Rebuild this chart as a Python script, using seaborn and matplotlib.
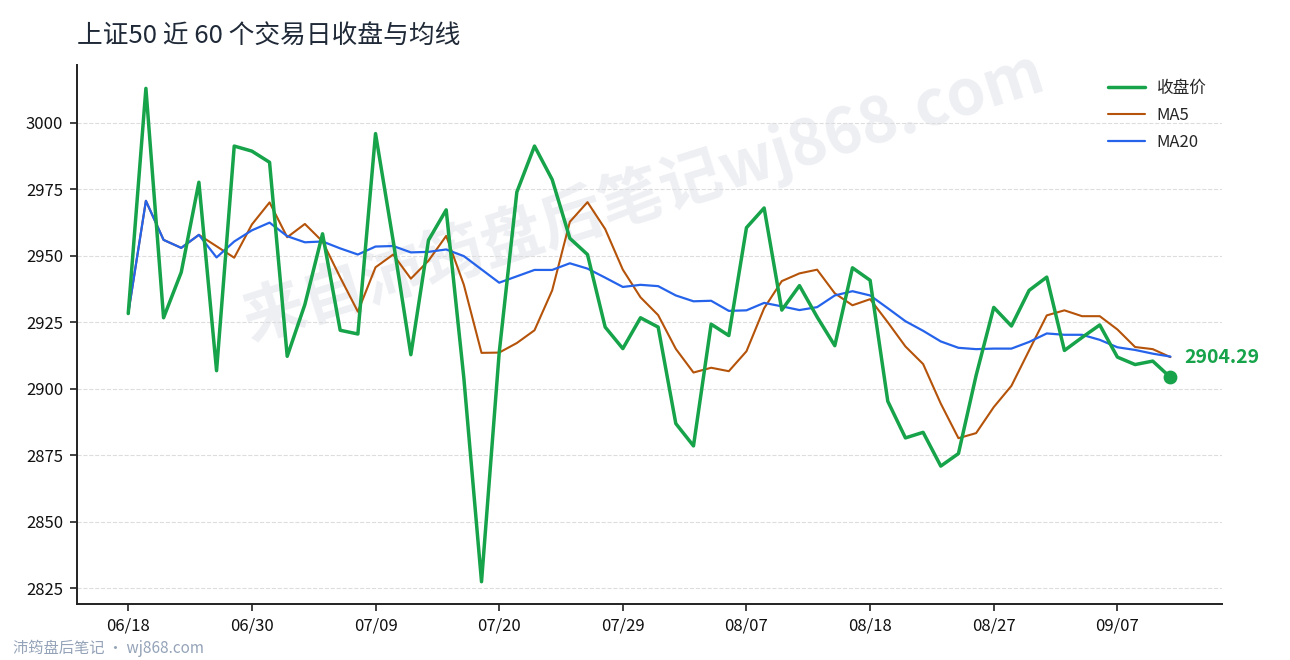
#!/usr/bin/env python3

# SSE 50: last 60 trading days, close with MA5 / MA20

import seaborn as sns
import matplotlib.pyplot as plt
import pandas as pd

close = [2928.3, 3013.0, 2926.7, 2943.8, 2977.7, 2906.8, 2991.3, 2989.4, 2985.2, 2912.2,
         2931.7, 2958.3, 2922.0, 2920.6, 2996.0, 2955.6, 2912.8, 2955.9, 2967.3, 2904.0,
         2827.4, 2913.5, 2974.0, 2991.3, 2978.7, 2956.6, 2950.5, 2923.2, 2915.1, 2926.7,
         2923.2, 2886.9, 2878.5, 2924.3, 2920.0, 2960.6, 2968.0, 2929.6, 2938.8, 2927.0,
         2916.2, 2945.5, 2940.8, 2895.3, 2881.5, 2883.6, 2870.9, 2875.6, 2905.0, 2930.6,
         2923.6, 2937.0, 2942.0, 2914.4, 2919.3, 2924.0, 2911.9, 2909.1, 2910.4, 2904.29]

ma5 = [2928.3, 2970.7, 2956.0, 2953.0, 2957.9, 2953.6, 2949.3, 2961.8, 2970.1, 2957.0,
       2962.0, 2955.4, 2941.9, 2929.0, 2945.7, 2950.5, 2941.4, 2948.2, 2957.5, 2939.1,
       2913.5, 2913.6, 2917.2, 2922.0, 2937.0, 2962.8, 2970.2, 2960.1, 2944.8, 2934.4,
       2927.7, 2915.0, 2906.1, 2907.9, 2906.6, 2914.1, 2930.3, 2940.5, 2943.4, 2944.8,
       2935.9, 2931.4, 2933.7, 2925.0, 2915.9, 2909.3, 2894.4, 2881.4, 2883.3, 2893.1,
       2901.1, 2914.4, 2927.6, 2929.5, 2927.3, 2927.3, 2922.3, 2915.7, 2914.9, 2911.9]

ma20 = [2928.3, 2970.7, 2956.0, 2953.0, 2957.9, 2949.4, 2955.4, 2959.6, 2962.5, 2957.4,
        2955.1, 2955.4, 2952.8, 2950.5, 2953.5, 2953.7, 2951.3, 2951.5, 2952.4, 2949.9,
        2944.9, 2939.9, 2942.3, 2944.7, 2944.7, 2947.2, 2945.2, 2941.8, 2938.3, 2939.1,
        2938.6, 2935.1, 2932.9, 2933.1, 2929.3, 2929.5, 2932.3, 2931.0, 2929.6, 2930.7,
        2935.1, 2936.7, 2935.1, 2930.3, 2925.4, 2921.8, 2917.8, 2915.4, 2914.9, 2915.1,
        2915.1, 2917.6, 2920.8, 2920.3, 2920.3, 2918.4, 2915.6, 2914.6, 2913.2, 2912.1]

tick_labels = ["06/18", "06/30", "07/09", "07/20", "07/29", "08/07", "08/18", "08/27", "09/07"]
y_ticks = [2825, 2850, 2875, 2900, 2925, 2950, 2975, 3000]

c_close = "#16a34a"
c_ma5 = "#b45309"
c_ma20 = "#2563eb"

sns.set_theme(style="white")
plt.rcParams['font.family'] = ['Noto Sans CJK SC', 'DejaVu Sans']
plt.rcParams['axes.unicode_minus'] = False

dta = pd.DataFrame({"day": range(len(close)), "close": close, "ma5": ma5, "ma20": ma20})

f = plt.figure(figsize=(12.9, 6.6), dpi=100)
ax = f.add_axes([0.0597, 0.0848, 0.8873, 0.8167])

# watermark behind everything
ax.text(0.495, 0.757, "来自沛筠盘后笔记wj868.com", transform=ax.transAxes, fontsize=45,
        fontweight="bold", color="#edeff3", rotation=17.5,
        ha="center", va="center", zorder=0)

sns.lineplot(x="day", y="close", data=dta, ax=ax, color=c_close, lw=2.5, label="收盘价", zorder=4)
sns.lineplot(x="day", y="ma5", data=dta, ax=ax, color=c_ma5, lw=1.5, label="MA5", zorder=3)
sns.lineplot(x="day", y="ma20", data=dta, ax=ax, color=c_ma20, lw=1.6, label="MA20", zorder=3)

last = dta.iloc[-1]
ax.scatter([last["day"]], [last["close"]], s=80, color=c_close, zorder=5)
ax.annotate(f"{close[-1]:.2f}", (last["day"], last["close"]), xytext=(10, 14),
            textcoords="offset points", color=c_close, fontsize=14, fontweight="bold",
            va="center", ha="left")

ax.set_xlim(-2.9, 61.9)
ax.set_ylim(2819.0, 3021.8)
ax.set_xticks(range(0, len(close), 7))
ax.set_xticklabels(tick_labels)
ax.set_yticks(y_ticks)
ax.set_xlabel("")
ax.set_ylabel("")
ax.tick_params(axis="both", labelsize=12, length=5, width=1.2, color="#222222",
               direction="out", left=True, bottom=True, pad=5, labelcolor="#111111")
ax.grid(axis="y", color="#dddddd", ls="--", lw=0.8)
ax.set_axisbelow(True)
sns.despine(ax=ax)
for s in ["left", "bottom"]:
    ax.spines[s].set_color("#222222")
    ax.spines[s].set_linewidth(1.4)

ax.legend(loc="upper right", frameon=False, fontsize=12, handlelength=2.2,
          handletextpad=0.7, labelspacing=0.6)

f.text(0.0597, 1 - 36 / 660, "上证50 近 60 个交易日收盘与均线", fontsize=18.5,
       color="#1f2937", ha="left", va="center")
f.text(0.01, 1 - 648 / 660, "沛筠盘后笔记 · wj868.com", fontsize=11,
       color="#94a3b8", ha="left", va="center")

f.savefig("out.png", dpi=100)
